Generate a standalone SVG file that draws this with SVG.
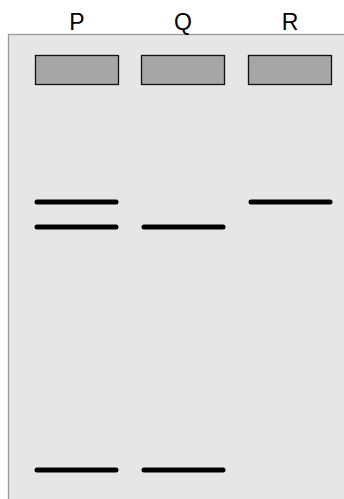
<svg xmlns="http://www.w3.org/2000/svg" width="344" height="499" viewBox="0 0 344 499">
<style>
.lbl{font-family:"Liberation Sans",Arial,sans-serif;font-size:23px;fill:#000;text-anchor:middle}
.well{fill:#a6a6a6;stroke:#111;stroke-width:1.3}
.band{stroke:#000;stroke-width:5;stroke-linecap:round}
</style>
<rect id="gel" x="8.5" y="34.5" width="340" height="470" fill="#e6e6e6" stroke="#999" stroke-width="1.3"/>
<g id="laneP">
<text class="lbl" x="77" y="30">P</text>
<rect class="well" x="35.5" y="55.5" width="83" height="29"/>
</g>
<g id="laneQ">
<text class="lbl" x="183" y="30">Q</text>
<rect class="well" x="141.5" y="55.5" width="83" height="29"/>
</g>
<g id="laneR">
<text class="lbl" x="290" y="30">R</text>
<rect class="well" x="248.5" y="55.5" width="83" height="29"/>
</g>
<g id="bands">
<line class="band" x1="37" y1="202" x2="116" y2="202"/>
<line class="band" x1="37" y1="227" x2="116" y2="227"/>
<line class="band" x1="37" y1="470" x2="116" y2="470"/>
<line class="band" x1="144" y1="227" x2="223" y2="227"/>
<line class="band" x1="144" y1="470" x2="223" y2="470"/>
<line class="band" x1="251" y1="202" x2="330" y2="202"/>
</g>
</svg>
